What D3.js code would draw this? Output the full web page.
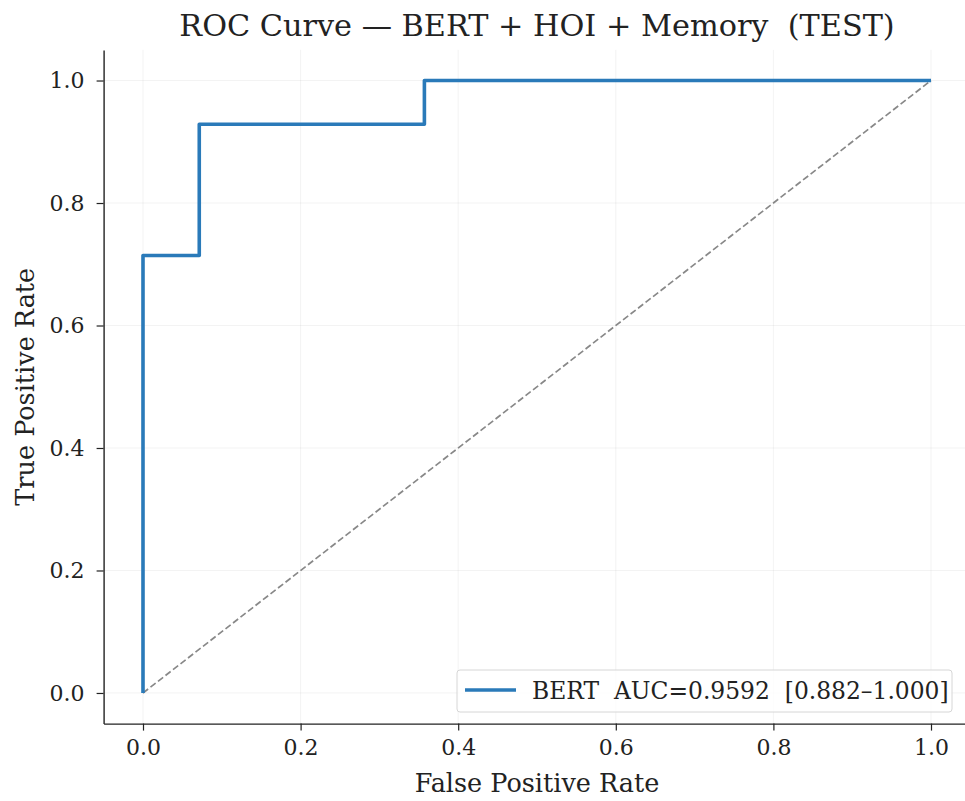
<!DOCTYPE html>
<html>
<head>
<meta charset="utf-8">
<script src="https://cdn.jsdelivr.net/npm/d3@7"></script>
<style>
  html, body { margin: 0; padding: 0; background: #fff; }
  svg { display: block; }
  text { font-family: "DejaVu Serif"; fill: #222; white-space: pre; }
</style>
</head>
<body>
<div id="chart"></div>
<script>
// ROC curve operating points (false positive rate, true positive rate)
const fpr = [0, 0, 0.0714, 0.0714, 0.3571, 0.3571, 1.0];
const tpr = [0, 0.7143, 0.7143, 0.9286, 0.9286, 1.0, 1.0];
const chanceX = [0, 1];
const chanceY = [0, 1];
const tickValues = [0, 0.2, 0.4, 0.6, 0.8, 1.0];
const titleText = "ROC Curve \u2014 BERT + HOI + Memory  (TEST)";
const legendText = "BERT  AUC=0.9592  [0.882\u20131.000]";

const W = 965, H = 801;
const svg = d3.select("#chart").append("svg").attr("width", W).attr("height", H);

const x = d3.scaleLinear().domain([-0.05, 1.05]).range([103.6, 970.4]);
const y = d3.scaleLinear().domain([-0.05, 1.05]).range([723.6, 49.9]);

// light grid
const grid = svg.append("g");
tickValues.forEach(v => {
  grid.append("line").attr("x1", x(v)).attr("x2", x(v)).attr("y1", y(-0.05)).attr("y2", y(1.05))
    .attr("stroke", "#b0b0b0").attr("stroke-opacity", 0.2).attr("stroke-width", 0.8);
  grid.append("line").attr("y1", y(v)).attr("y2", y(v)).attr("x1", x(-0.05)).attr("x2", x(1.05))
    .attr("stroke", "#b0b0b0").attr("stroke-opacity", 0.2).attr("stroke-width", 0.8);
});

// chance diagonal
const line = d3.line().x(d => x(d[0])).y(d => y(d[1]));
svg.append("path").datum(d3.zip(chanceX, chanceY)).attr("d", line)
  .attr("fill", "none").attr("stroke", "#888").attr("stroke-width", 1.7)
  .attr("stroke-dasharray", "6.5,3");

// ROC step curve
svg.append("path").datum(d3.zip(fpr, tpr)).attr("d", line)
  .attr("fill", "none").attr("stroke", "#2a7ab9").attr("stroke-width", 3.6)
  .attr("stroke-linejoin", "round").attr("stroke-linecap", "butt");

// axes
const xAxis = d3.axisBottom(x).tickValues(tickValues).tickFormat(d3.format(".1f"))
  .tickSize(7).tickSizeOuter(0).tickPadding(9);
const yAxis = d3.axisLeft(y).tickValues(tickValues).tickFormat(d3.format(".1f"))
  .tickSize(7).tickSizeOuter(0).tickPadding(12);

const gx = svg.append("g").attr("transform", `translate(0,${y(-0.05)})`).call(xAxis);
const gy = svg.append("g").attr("transform", `translate(${x(-0.05)},0)`).call(yAxis);
[gx, gy].forEach(g => {
  g.select(".domain").attr("stroke", "#222").attr("stroke-width", 1.4);
  g.selectAll(".tick line").attr("stroke", "#222").attr("stroke-width", 1.2);
  g.selectAll(".tick text").style("font-family", "DejaVu Serif").style("font-size", "22px").attr("fill", "#222");
});

// axis labels
svg.append("text").attr("x", x(0.5)).attr("y", 792).attr("text-anchor", "middle")
  .style("font-size", "25.5px").text("False Positive Rate");
svg.append("text").attr("transform", `translate(34,${y(0.5)}) rotate(-90)`).attr("text-anchor", "middle")
  .style("font-size", "25.5px").text("True Positive Rate");

// title
svg.append("text").attr("x", x(0.5)).attr("y", 36).attr("text-anchor", "middle")
  .style("font-size", "30.3px").text(titleText);

// legend
const lg = svg.append("g");
lg.append("rect").attr("x", 457).attr("y", 670).attr("width", 495).attr("height", 42).attr("rx", 3)
  .attr("fill", "#fff").attr("fill-opacity", 0.8).attr("stroke", "#d6d6d6").attr("stroke-width", 1);
lg.append("line").attr("x1", 465).attr("x2", 516).attr("y1", 690).attr("y2", 690)
  .attr("stroke", "#2a7ab9").attr("stroke-width", 3.6);
lg.append("text").attr("x", 532).attr("y", 699).style("font-size", "23.4px").text(legendText);
</script>
</body>
</html>
